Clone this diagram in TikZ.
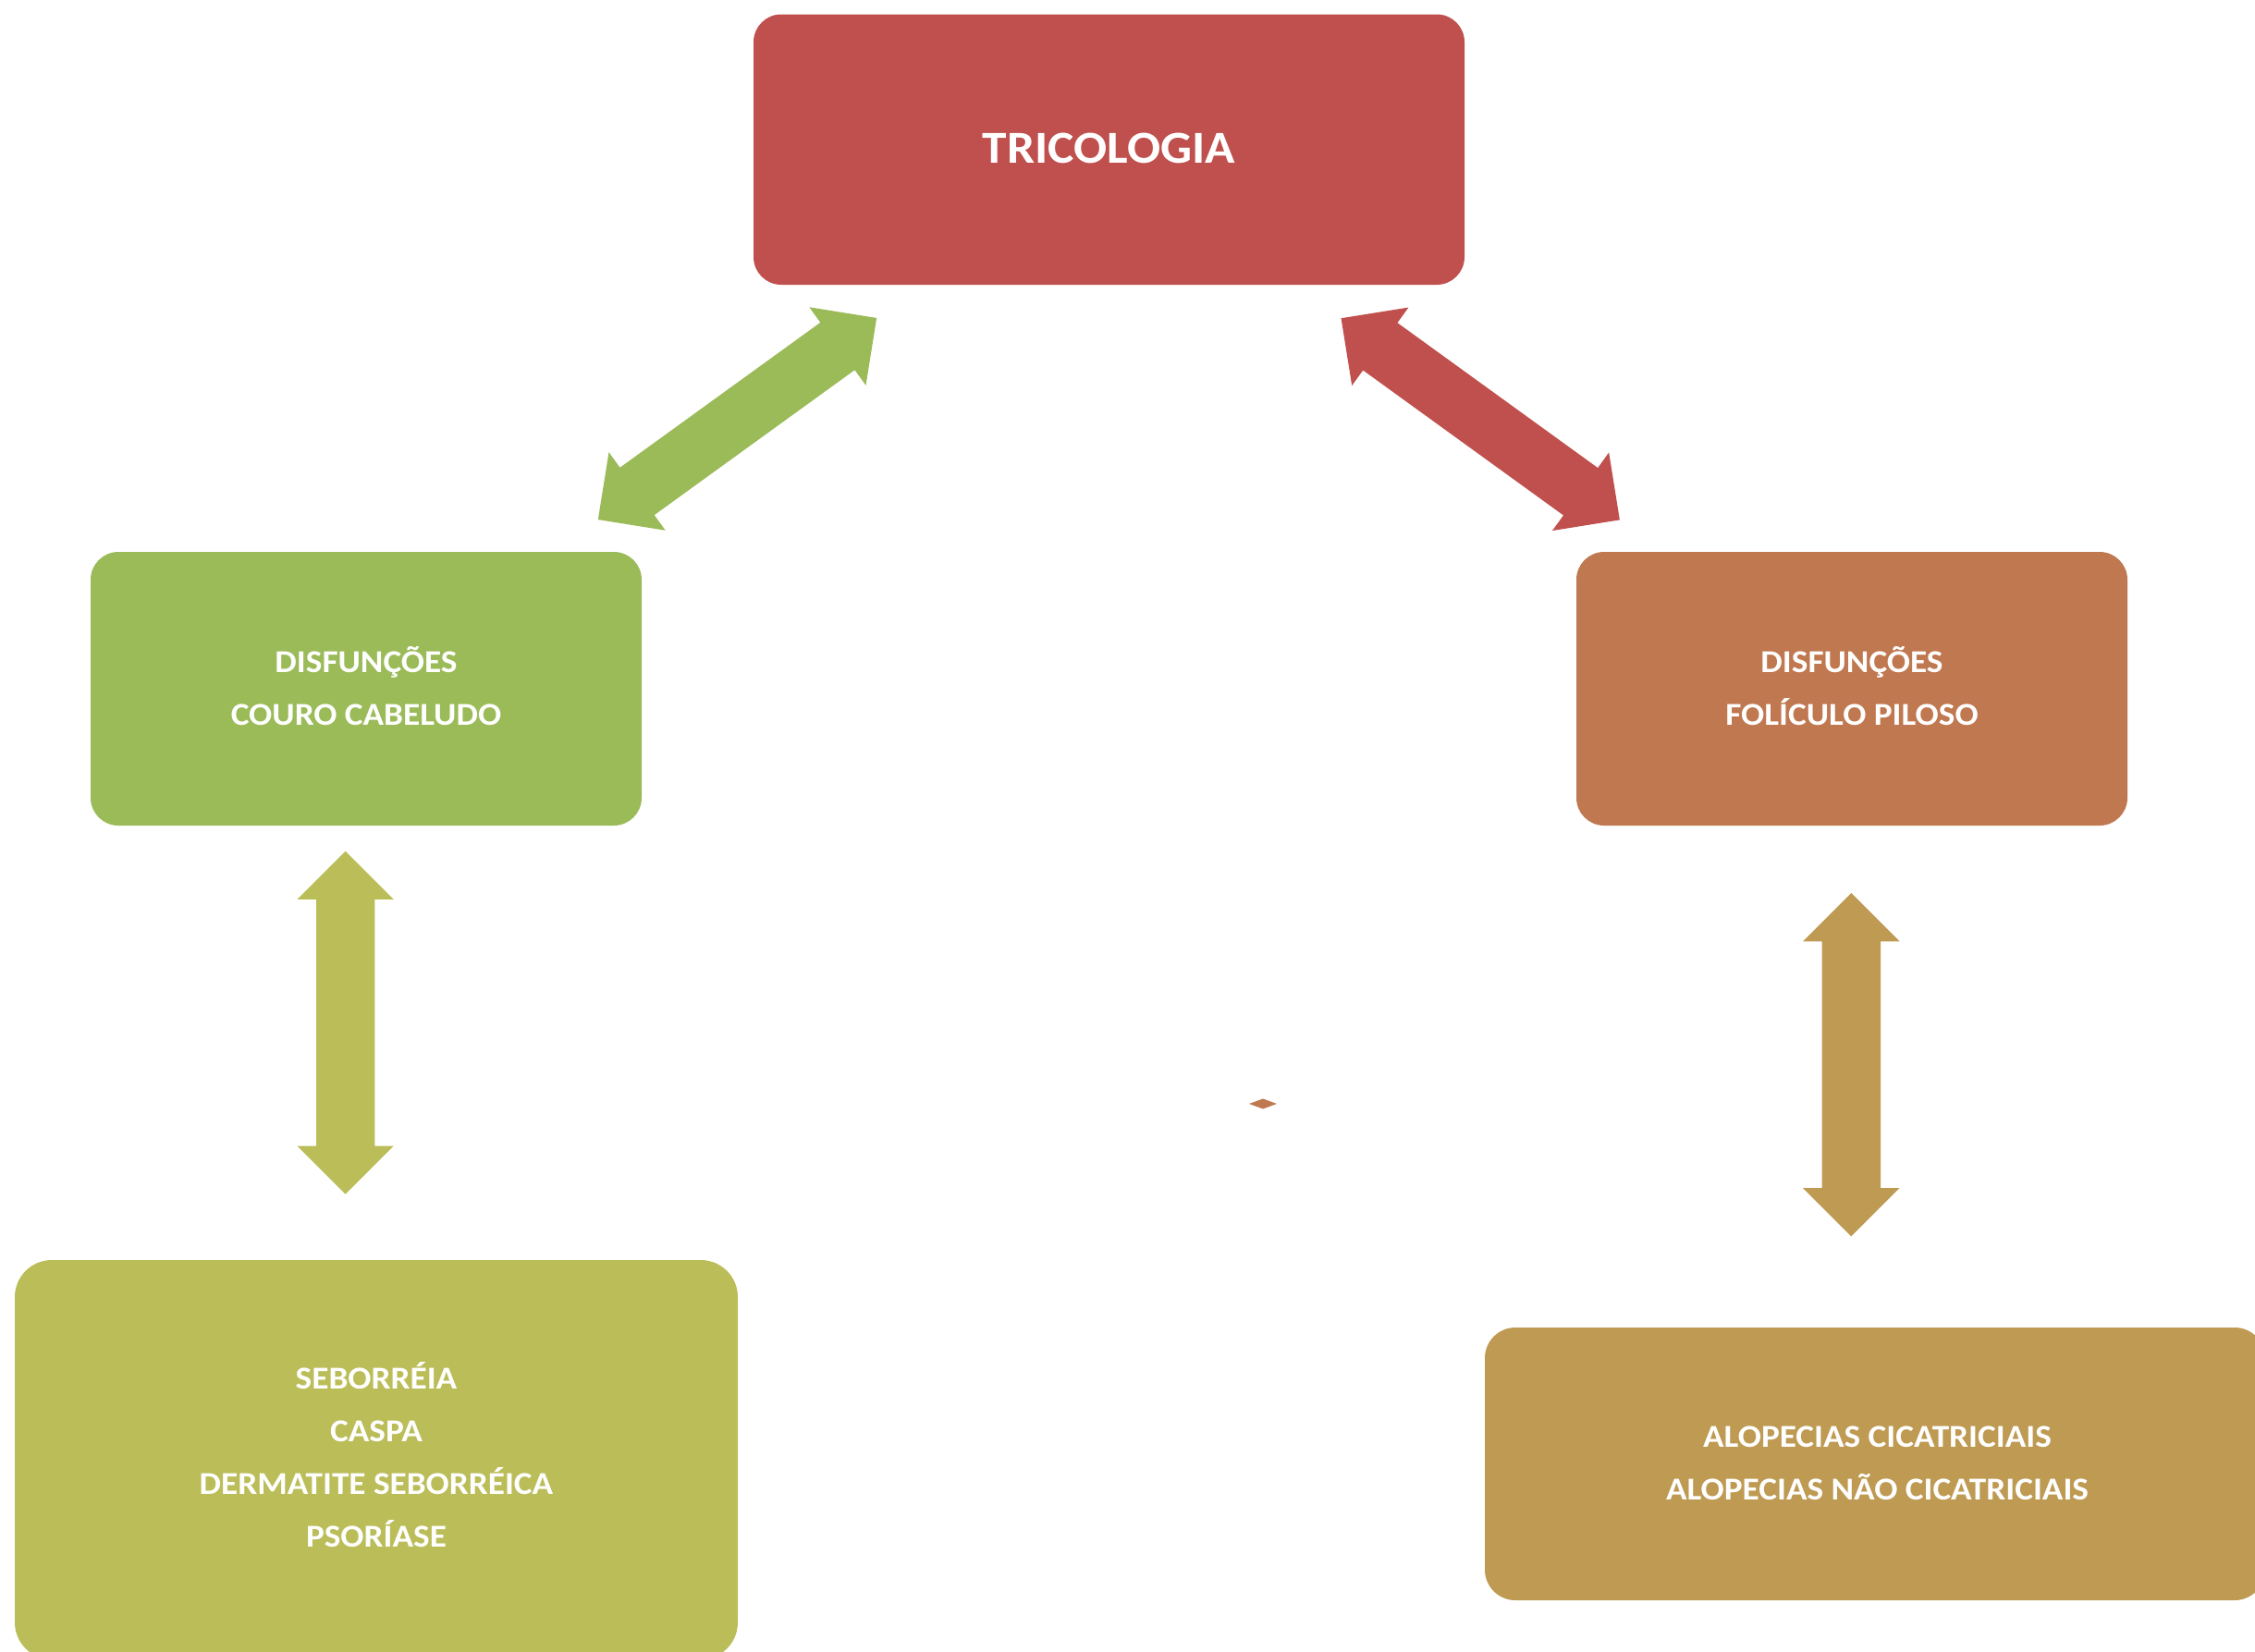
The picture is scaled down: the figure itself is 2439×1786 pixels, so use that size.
\documentclass[tikz,border=0pt]{standalone}
\usepackage{fontspec}
\setmainfont{Carlito}[FakeStretch=1.08]
\usetikzlibrary{shapes.arrows}
\definecolor{cred}{HTML}{C0504D}
\definecolor{cgreen}{HTML}{9BBB59}
\definecolor{corange}{HTML}{BF7850}
\definecolor{colive}{HTML}{BBBD59}
\definecolor{cgold}{HTML}{BE9A52}
\tikzset{
  tbox/.style={rectangle, rounded corners=#1, inner sep=0pt, outer sep=0pt, draw=none},
  lbl/.style={text=white, font=\bfseries\fontsize{34.5}{40}\selectfont, anchor=base, inner sep=0pt},
  ttl/.style={text=white, font=\bfseries\fontsize{49.5}{60}\selectfont, anchor=base, inner sep=0pt},
  dblarr/.style={double arrow, double arrow tip angle=90, double arrow head extend=20.5pt,
    inner xsep=0pt, inner ysep=31.5pt, outer sep=0pt, draw=none}
}
\begin{document}
\begin{tikzpicture}[x=1pt, y=-1pt]
\useasboundingbox (0,0) rectangle (2439,1786);
\clip (0,0) rectangle (2439,1786);
% boxes
\node[tbox=30pt, fill=cred, minimum width=769pt, minimum height=292.5pt] (top) at (1199.5,161.75) {};
\node[tbox=30pt, fill=cgreen, minimum width=596pt, minimum height=296pt] (left) at (396,745) {};
\node[tbox=30pt, fill=corange, minimum width=596pt, minimum height=296pt] (right) at (2003,745) {};
\node[tbox=40pt, fill=colive, minimum width=782pt, minimum height=432pt] (bl) at (407,1579) {};
\node[tbox=33pt, fill=cgold, minimum width=844pt, minimum height=295pt] (br) at (2028,1583.5) {};
% texts
\node[ttl] (t1) at (1199.5,176) {TRICOLOGIA};
\node[lbl] (l1) at (396,727.7) {DISFUNÇÕES};
\node[lbl] (l2) at (396,784) {COURO CABELUDO};
\node[lbl] (r1) at (2003,727.7) {DISFUNÇÕES};
\node[lbl] (r2) at (2003,784) {FOLÍCULO PILOSO};
\node[lbl] (b1) at (407,1502.3) {SEBORRÉIA};
\node[lbl] (b2) at (407,1559.5) {CASPA};
\node[lbl] (b3) at (407,1616.7) {DERMATITE SEBORRÉICA};
\node[lbl] (b4) at (407,1673.3) {PSORÍASE};
\node[lbl] (c1) at (2030.5,1565.7) {ALOPECIAS CICATRICIAIS};
\node[lbl] (c2) at (2030.5,1622.3) {ALOPECIAS NÃO CICATRICIAIS};
% block arrows
\node[dblarr, fill=cgreen, minimum height=372pt, rotate=35.9] (ag) at (797.5,453) {};
\node[dblarr, fill=cred, minimum height=372pt, rotate=-35.9] (ar) at (1601.2,453.3) {};
\node[dblarr, fill=colive, minimum height=371pt, rotate=90] (al) at (373.7,1106.2) {};
\node[dblarr, fill=cgold, minimum height=371.3pt, rotate=90] (ab) at (2002.3,1151.7) {};
% small diamond
\coordinate (dm) at (1366,1194);
\fill[corange] ([xshift=-15pt]dm) -- ([yshift=5.5pt]dm) -- ([xshift=15pt]dm) -- ([yshift=-5.5pt]dm) -- cycle;
\end{tikzpicture}
\end{document}
